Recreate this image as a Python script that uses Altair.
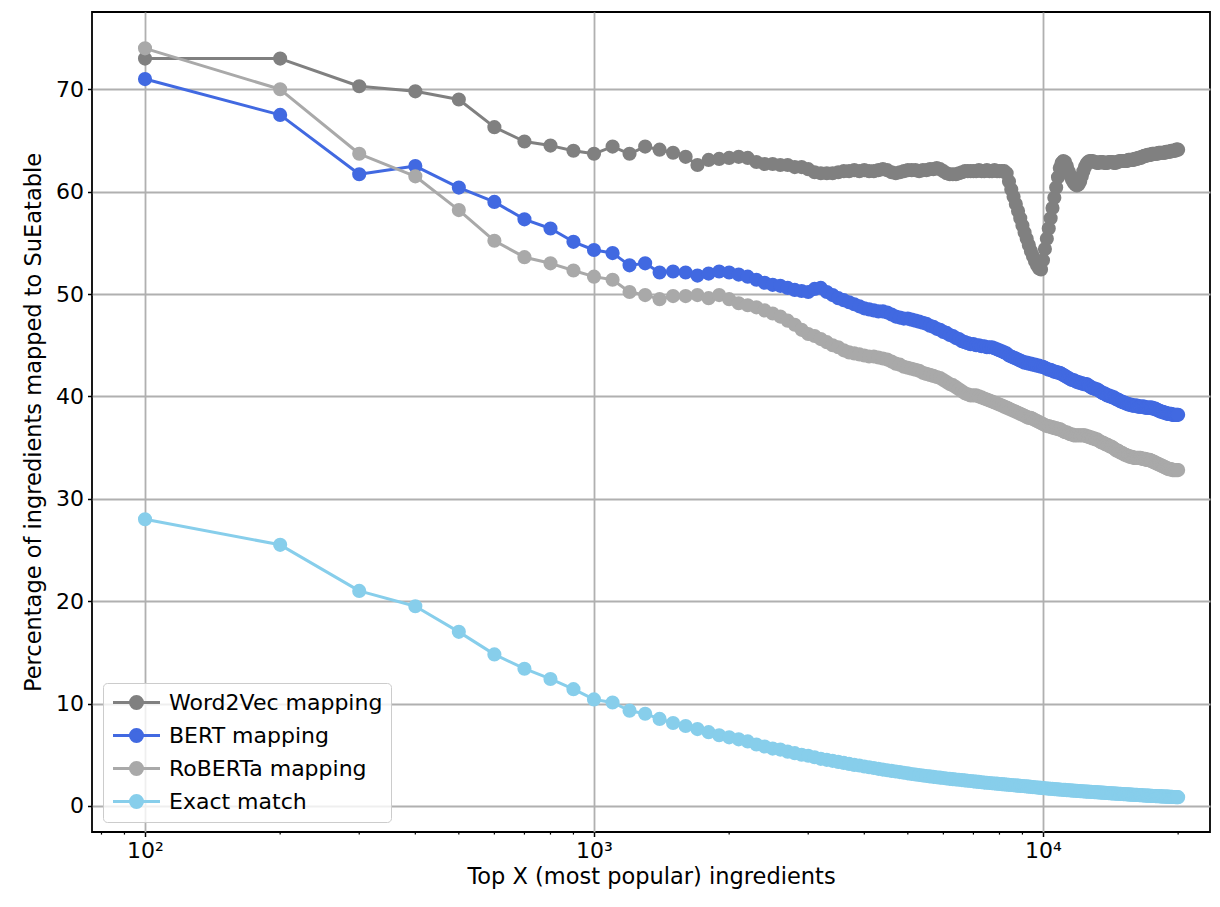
import altair as alt
import pandas as pd

series_names = ["Word2Vec mapping", "BERT mapping", "RoBERTa mapping", "Exact match"]
series_colors = ["#808080", "#4169e1", "#a9a9a9", "#87ceeb"]

top_x = list(range(100, 20001, 100))

word2vec = [
    73.0, 73.0, 70.3, 69.8, 69.0, 66.3, 64.9, 64.5, 64.0, 63.7,
    64.4, 63.7, 64.4, 64.1, 63.8, 63.4, 62.6, 63.1, 63.2, 63.3,
    63.4, 63.3, 62.9, 62.7, 62.7, 62.6, 62.6, 62.4, 62.4, 62.2,
    61.9, 61.8, 61.8, 61.8, 61.9, 62.0, 62.0, 62.1, 62.0, 62.1,
    62.0, 62.0, 62.1, 62.2, 62.1, 61.9, 61.8, 61.9, 62.0, 62.1,
    62.1, 62.1, 62.0, 62.1, 62.1, 62.2, 62.2, 62.3, 62.2, 62.0,
    61.8, 61.7, 61.7, 61.7, 61.8, 61.9, 62.0, 62.0, 62.0, 62.0,
    62.0, 62.1, 62.0, 62.0, 62.1, 62.0, 62.0, 62.1, 62.0, 62.0,
    62.0, 62.0, 61.8, 61.0, 60.2, 59.5, 58.8, 58.1, 57.4, 56.7,
    56.0, 55.4, 54.8, 54.2, 53.7, 53.2, 52.8, 52.5, 52.4, 53.3,
    54.4, 55.4, 56.4, 57.4, 58.4, 59.4, 60.4, 61.4, 62.3, 62.8,
    63.0, 62.9, 62.5, 62.0, 61.6, 61.2, 60.9, 60.7, 60.6, 60.7,
    61.0, 61.5, 62.0, 62.4, 62.7, 62.9, 63.0, 63.0, 63.0, 62.9,
    62.9, 62.8, 62.8, 62.9, 62.9, 62.9, 62.8, 62.8, 62.8, 62.9,
    62.9, 62.9, 62.9, 62.8, 62.8, 62.9, 62.9, 63.0, 63.0, 63.0,
    63.0, 63.0, 63.0, 63.0, 63.1, 63.1, 63.1, 63.1, 63.1, 63.2,
    63.2, 63.2, 63.3, 63.3, 63.3, 63.4, 63.4, 63.5, 63.5, 63.5,
    63.6, 63.6, 63.6, 63.6, 63.7, 63.7, 63.7, 63.7, 63.7, 63.7,
    63.8, 63.8, 63.8, 63.8, 63.8, 63.8, 63.8, 63.9, 63.9, 63.9,
    63.9, 63.9, 64.0, 64.0, 64.0, 64.0, 64.0, 64.1, 64.1, 64.1,
]

bert = [
    71.0, 67.5, 61.7, 62.5, 60.4, 59.0, 57.3, 56.4, 55.1, 54.3,
    54.0, 52.8, 53.0, 52.1, 52.2, 52.1, 51.8, 52.0, 52.2, 52.1,
    51.9, 51.7, 51.4, 51.1, 50.9, 50.8, 50.6, 50.4, 50.3, 50.2,
    50.5, 50.6, 50.2, 49.9, 49.6, 49.4, 49.2, 49.0, 48.8, 48.6,
    48.5, 48.4, 48.3, 48.3, 48.2, 48.0, 47.8, 47.7, 47.6, 47.6,
    47.5, 47.4, 47.3, 47.2, 47.1, 46.9, 46.8, 46.6, 46.5, 46.3,
    46.2, 46.0, 45.9, 45.7, 45.6, 45.4, 45.3, 45.2, 45.1, 45.1,
    45.0, 45.0, 44.9, 44.9, 44.8, 44.8, 44.8, 44.7, 44.6, 44.5,
    44.4, 44.3, 44.2, 44.0, 43.9, 43.8, 43.7, 43.6, 43.5, 43.4,
    43.3, 43.3, 43.2, 43.2, 43.1, 43.1, 43.0, 43.0, 42.9, 42.9,
    42.8, 42.7, 42.6, 42.6, 42.5, 42.4, 42.4, 42.3, 42.3, 42.2,
    42.1, 42.0, 41.9, 41.8, 41.7, 41.6, 41.6, 41.5, 41.4, 41.4,
    41.3, 41.3, 41.2, 41.2, 41.2, 41.1, 41.0, 40.9, 40.8, 40.8,
    40.7, 40.7, 40.6, 40.5, 40.4, 40.3, 40.3, 40.2, 40.1, 40.1,
    40.0, 40.0, 39.9, 39.9, 39.8, 39.7, 39.7, 39.6, 39.5, 39.5,
    39.4, 39.4, 39.3, 39.3, 39.2, 39.2, 39.2, 39.1, 39.1, 39.1,
    39.1, 39.1, 39.0, 39.0, 39.0, 39.0, 39.0, 39.0, 38.9, 38.9,
    38.9, 38.9, 38.9, 38.9, 38.9, 38.8, 38.8, 38.8, 38.7, 38.7,
    38.6, 38.6, 38.5, 38.5, 38.5, 38.4, 38.4, 38.4, 38.3, 38.3,
    38.3, 38.3, 38.3, 38.2, 38.2, 38.2, 38.2, 38.2, 38.2, 38.2,
]

roberta = [
    74.0, 70.0, 63.7, 61.5, 58.2, 55.2, 53.6, 53.0, 52.3, 51.7,
    51.4, 50.2, 49.9, 49.5, 49.8, 49.8, 49.9, 49.6, 49.9, 49.5,
    49.1, 48.9, 48.7, 48.4, 48.1, 47.8, 47.4, 47.0, 46.5, 46.1,
    45.9, 45.6, 45.3, 45.0, 44.8, 44.5, 44.3, 44.2, 44.1, 44.0,
    43.9, 43.9, 43.8, 43.7, 43.6, 43.4, 43.2, 43.1, 42.9, 42.8,
    42.7, 42.6, 42.5, 42.3, 42.2, 42.1, 42.0, 41.9, 41.8, 41.6,
    41.4, 41.2, 41.1, 40.9, 40.7, 40.5, 40.3, 40.2, 40.1, 40.1,
    40.1, 40.0, 39.9, 39.8, 39.7, 39.6, 39.5, 39.4, 39.3, 39.2,
    39.1, 39.0, 38.9, 38.8, 38.7, 38.6, 38.5, 38.4, 38.3, 38.2,
    38.1, 38.0, 37.9, 37.9, 37.8, 37.7, 37.6, 37.5, 37.4, 37.3,
    37.2, 37.1, 37.1, 37.0, 37.0, 36.9, 36.9, 36.8, 36.8, 36.7,
    36.6, 36.5, 36.5, 36.4, 36.3, 36.3, 36.2, 36.2, 36.2, 36.2,
    36.2, 36.2, 36.2, 36.2, 36.1, 36.1, 36.0, 36.0, 35.9, 35.9,
    35.8, 35.8, 35.7, 35.6, 35.5, 35.5, 35.4, 35.3, 35.3, 35.2,
    35.1, 35.1, 35.0, 34.9, 34.8, 34.7, 34.7, 34.6, 34.5, 34.5,
    34.4, 34.3, 34.3, 34.2, 34.2, 34.1, 34.1, 34.1, 34.0, 34.0,
    34.0, 34.0, 34.0, 34.0, 34.0, 33.9, 33.9, 33.9, 33.9, 33.8,
    33.8, 33.8, 33.8, 33.7, 33.7, 33.6, 33.6, 33.5, 33.5, 33.4,
    33.4, 33.3, 33.3, 33.2, 33.2, 33.1, 33.1, 33.0, 33.0, 32.9,
    32.9, 32.9, 32.9, 32.8, 32.8, 32.8, 32.8, 32.8, 32.8, 32.8,
]

exact = [
    28.0, 25.5, 21.0, 19.5, 17.0, 14.8, 13.4, 12.4, 11.4, 10.4,
    10.1, 9.3, 9.0, 8.5, 8.1, 7.8, 7.5, 7.2, 6.9, 6.7,
    6.5, 6.3, 6.0, 5.8, 5.6, 5.5, 5.3, 5.15, 5.0, 4.9,
    4.75, 4.6, 4.5, 4.4, 4.3, 4.2, 4.1, 4.0, 3.95, 3.85,
    3.78, 3.7, 3.62, 3.55, 3.48, 3.42, 3.36, 3.3, 3.24, 3.18,
    3.12, 3.07, 3.02, 2.97, 2.92, 2.88, 2.84, 2.80, 2.76, 2.72,
    2.68, 2.64, 2.61, 2.58, 2.55, 2.52, 2.49, 2.46, 2.43, 2.40,
    2.37, 2.34, 2.31, 2.28, 2.26, 2.24, 2.21, 2.19, 2.17, 2.14,
    2.12, 2.10, 2.08, 2.06, 2.04, 2.02, 2.00, 1.98, 1.96, 1.94,
    1.92, 1.90, 1.88, 1.86, 1.84, 1.82, 1.80, 1.78, 1.76, 1.74,
    1.72, 1.70, 1.69, 1.67, 1.66, 1.64, 1.63, 1.61, 1.60, 1.58,
    1.57, 1.56, 1.54, 1.53, 1.52, 1.50, 1.49, 1.48, 1.47, 1.45,
    1.44, 1.43, 1.42, 1.41, 1.40, 1.39, 1.38, 1.37, 1.36, 1.35,
    1.34, 1.33, 1.32, 1.31, 1.30, 1.29, 1.28, 1.27, 1.26, 1.25,
    1.24, 1.23, 1.22, 1.21, 1.20, 1.20, 1.19, 1.18, 1.17, 1.16,
    1.15, 1.14, 1.14, 1.13, 1.12, 1.11, 1.10, 1.10, 1.09, 1.08,
    1.07, 1.07, 1.06, 1.05, 1.04, 1.04, 1.03, 1.02, 1.02, 1.01,
    1.00, 1.00, 0.99, 0.98, 0.98, 0.97, 0.97, 0.96, 0.95, 0.95,
    0.94, 0.94, 0.93, 0.93, 0.92, 0.92, 0.91, 0.91, 0.90, 0.90,
    0.89, 0.89, 0.88, 0.88, 0.87, 0.87, 0.86, 0.86, 0.85, 0.85,
]

y_ticks = [0, 10, 20, 30, 40, 50, 60, 70]
x_ticks = [100, 1000, 10000]
x_tick_labels = ["10²", "10³", "10⁴"]
x_minor = [80, 90, 200, 300, 400, 500, 600, 700, 800, 900,
           2000, 3000, 4000, 5000, 6000, 7000, 8000, 9000, 20000]

# ---- build tables ----
series_values = [word2vec, bert, roberta, exact]
rows = []
for name, vals in zip(series_names, series_values):
    for n, v in zip(top_x, vals):
        rows.append({"n": n, "value": v, "series": name})
df = pd.DataFrame(rows)
minor_df = pd.DataFrame({"n": x_minor})

W, H = 1118, 820
FONT = "DejaVu Sans"

label_expr = ""
for val, lab in zip(x_ticks, x_tick_labels):
    label_expr += f"datum.value == {val} ? '{lab}' : "
label_expr += "''"

x_scale = alt.Scale(type="log", domain=[76.2, 23550], nice=False)
y_scale = alt.Scale(domain=[-2.55, 77.55], nice=False, zero=False)

x_enc = alt.X("n:Q", scale=x_scale,
              axis=alt.Axis(values=x_ticks, labelExpr=label_expr,
                            title="Top X (most popular) ingredients", grid=True,
                            titlePadding=4))
y_enc = alt.Y("value:Q", scale=y_scale,
              axis=alt.Axis(values=y_ticks,
                            title="Percentage of ingredients mapped to SuEatable", grid=True,
                            titlePadding=10))

legend_symbol = ("M-2.35,0H2.35M0.6,0A0.6,0.6,0,1,1,-0.6,0"
                 "A0.6,0.6,0,1,1,0.6,0Z")
color_enc = alt.Color(
    "series:N",
    scale=alt.Scale(domain=series_names, range=series_colors),
    legend=alt.Legend(
        title=None, orient="none", legendX=11, legendY=671, direction="vertical",
        symbolType=legend_symbol, symbolSize=400, symbolStrokeWidth=3,
        symbolOffset=14, labelOffset=21, labelFont=FONT, labelFontSize=22,
        labelColor="black", labelLimit=400, rowPadding=8, padding=8,
        fillColor="rgba(255,255,255,0.8)", strokeColor="#cccccc", cornerRadius=4,
    ),
)

minor_ticks = alt.Chart(minor_df).mark_rule(color="black", strokeWidth=1.2).encode(
    x=alt.X("n:Q", scale=x_scale),
    y=alt.value(H),
    y2=alt.value(H + 2.6),
)

layers = [minor_ticks]
for name in series_names:
    base = alt.Chart(df).transform_filter(alt.datum.series == name)
    line = base.mark_line(strokeWidth=3, strokeJoin="round").encode(
        x=x_enc, y=y_enc, color=color_enc)
    pts = base.mark_circle(size=200, opacity=1).encode(
        x=x_enc, y=y_enc, color=color_enc)
    layers += [line, pts]

chart = alt.layer(*layers).properties(
    width=W, height=H,
    autosize=alt.AutoSizeParams(type="none"),
    padding={"left": 84, "top": 4, "right": 2, "bottom": 75},
).configure_view(
    stroke="black", strokeWidth=1.8
).configure_axis(
    domain=False,
    labelFont=FONT, labelFontSize=22, labelColor="black",
    titleFont=FONT, titleFontSize=22.5, titleFontWeight="normal", titleColor="black",
    tickColor="black", tickWidth=1.5, tickSize=4.5, labelPadding=4,
    gridColor="#b0b0b0", gridWidth=1.8,
).configure_axisY(
    labelAlign="right", labelBaseline="middle",
)

chart.save("out.html", embed_options={"renderer": "svg", "actions": False})
